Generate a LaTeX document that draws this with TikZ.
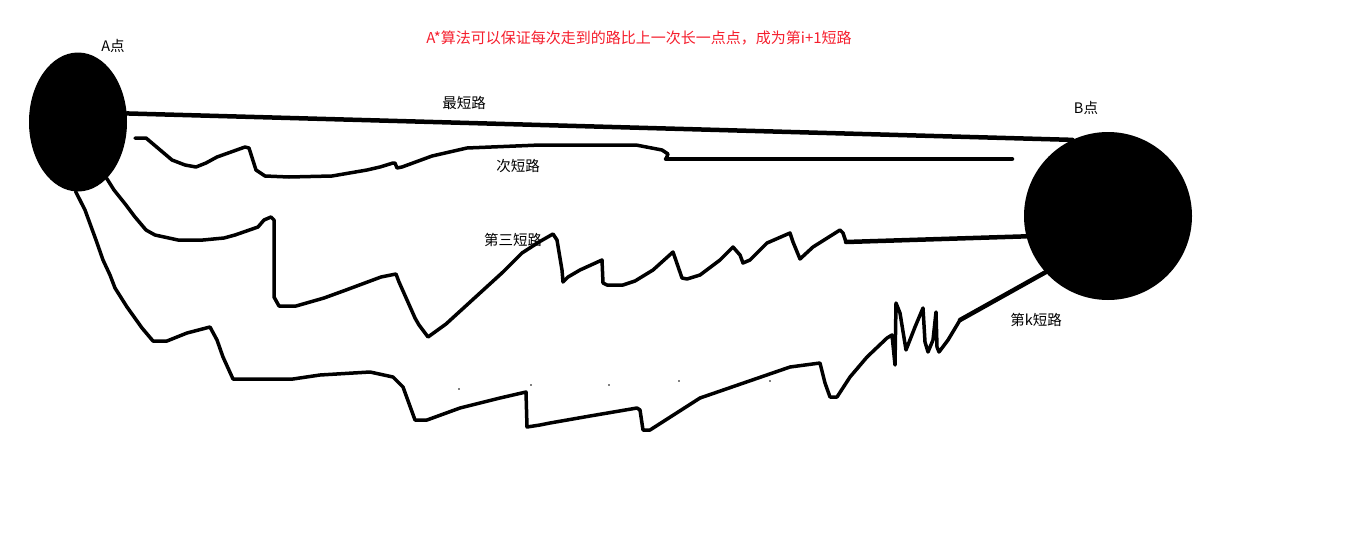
\documentclass[tikz,border=0pt]{standalone}
\usepackage{fontspec}
\newfontfamily\cjk{Noto Sans CJK SC}
\usetikzlibrary{shapes.geometric}
\definecolor{titlered}{RGB}{245,30,45}
\tikzset{
  pt/.style={fill=black, inner sep=0pt, outer sep=0pt},
  stroke/.style={line width=3.5pt, line join=round, line cap=round},
  straight/.style={line width=4.5pt, line cap=round},
  lbl/.style={font=\cjk\fontsize{14.5}{16}\selectfont, inner sep=0pt},
  title/.style={font=\cjk\fontsize{15}{17}\selectfont, text=titlered, inner sep=0pt},
  speck/.style={fill=black, inner sep=0pt, minimum size=1.6pt, circle}
}
\begin{document}
\begin{tikzpicture}[x=1pt,y=-1pt]
\useasboundingbox (0,0) rectangle (1360,544);
% points
\node[pt, ellipse, minimum width=98pt, minimum height=139pt] (A) at (78,122) {};
\node[pt, circle, minimum size=168pt] (B) at (1108,216) {};
% labels
\node[lbl] (la) at (113,46) {A点};
\node[lbl] (lb) at (1086,108) {B点};
\node[lbl] (l1) at (464,103) {最短路};
\node[lbl] (l2) at (518,166) {次短路};
\node[lbl] (l3) at (513,240) {第三短路};
\node[lbl] (lk) at (1036,320) {第k短路};
\node[title] (t) at (639,38) {A*算法可以保证每次走到的路比上一次长一点点，成为第i+1短路};
% shortest
\draw[straight] (A.10) -- (B.115);
% second
\coordinate (s0) at (135,138);
\coordinate (s1) at (666,159);
\coordinate (s2) at (1012,159);
\draw[stroke] (s0) -- (146,138) -- (172,160) -- (185,165) -- (196,167) -- (206,163) -- (217,157)
  -- (245,147) -- (249,148) -- (256,170) -- (265,176) -- (289,177) -- (332,176) -- (367,170)
  -- (380,167) -- (393,163) -- (395,163) -- (397,168) -- (402,167) -- (432,156) -- (467,148)
  -- (540,145) -- (636,145) -- (662,150) -- (668,154) -- (s1);
\draw[straight] (s1) -- (s2);
% third
\coordinate (t1) at (846,242);
\draw[stroke] (A.-63) -- (114,190) -- (126,205) -- (135,217) -- (146,230) -- (155,235) -- (178,240)
  -- (203,240) -- (224,238) -- (235,235) -- (258,227) -- (264,220) -- (271,217) -- (274,220)
  -- (274,297) -- (279,306) -- (296,306) -- (324,298) -- (346,290) -- (381,277) -- (396,274)
  -- (399,282) -- (415,318) -- (419,325) -- (428,337) -- (446,324) -- (503,272) -- (522,253)
  -- (539,242) -- (553,234) -- (557,240) -- (562,270) -- (563,282) -- (568,277) -- (580,270)
  -- (602,260) -- (603,283) -- (607,285) -- (623,285) -- (635,281) -- (653,270) -- (673,252)
  -- (682,278) -- (687,279) -- (700,275) -- (720,260) -- (733,247) -- (740,255) -- (743,263)
  -- (750,260) -- (767,243) -- (790,233) -- (793,242) -- (800,259) -- (813,247) -- (840,230)
  -- (843,233) -- (t1);
\draw[straight] (t1) -- (B.194);
% k-th
\coordinate (k1) at (960,320);
\draw[stroke] (A.-92) -- (85,210) -- (96,240) -- (103,260) -- (110,275) -- (115,288) -- (127,307)
  -- (142,328) -- (153,341) -- (167,341) -- (187,333) -- (210,327) -- (217,340) -- (223,357)
  -- (233,379) -- (293,379) -- (320,375) -- (370,372) -- (393,377) -- (403,387) -- (415,420)
  -- (427,420) -- (460,408) -- (500,398) -- (526,392) -- (527,427) -- (540,425) -- (550,423)
  -- (590,416) -- (637,408) -- (640,410) -- (643,430) -- (650,430) -- (700,398) -- (790,367)
  -- (820,363) -- (825,383) -- (830,397) -- (837,397) -- (850,377) -- (867,357) -- (887,338)
  -- (892,335) -- (895,365) -- (896,303) -- (900,313) -- (906,350) -- (915,327) -- (923,308)
  -- (925,342) -- (928,352) -- (933,340) -- (936,312) -- (937,347) -- (939,352) -- (948,340)
  -- (k1);
\draw[straight] (k1) -- (B.222);
% specks
\node[speck] (d1) at (459,389) {};
\node[speck] (d2) at (531,385) {};
\node[speck] (d3) at (609,385) {};
\node[speck] (d4) at (679,381) {};
\node[speck] (d5) at (770,381) {};
\node[speck] (d6) at (858,369) {};
\end{tikzpicture}
\end{document}
